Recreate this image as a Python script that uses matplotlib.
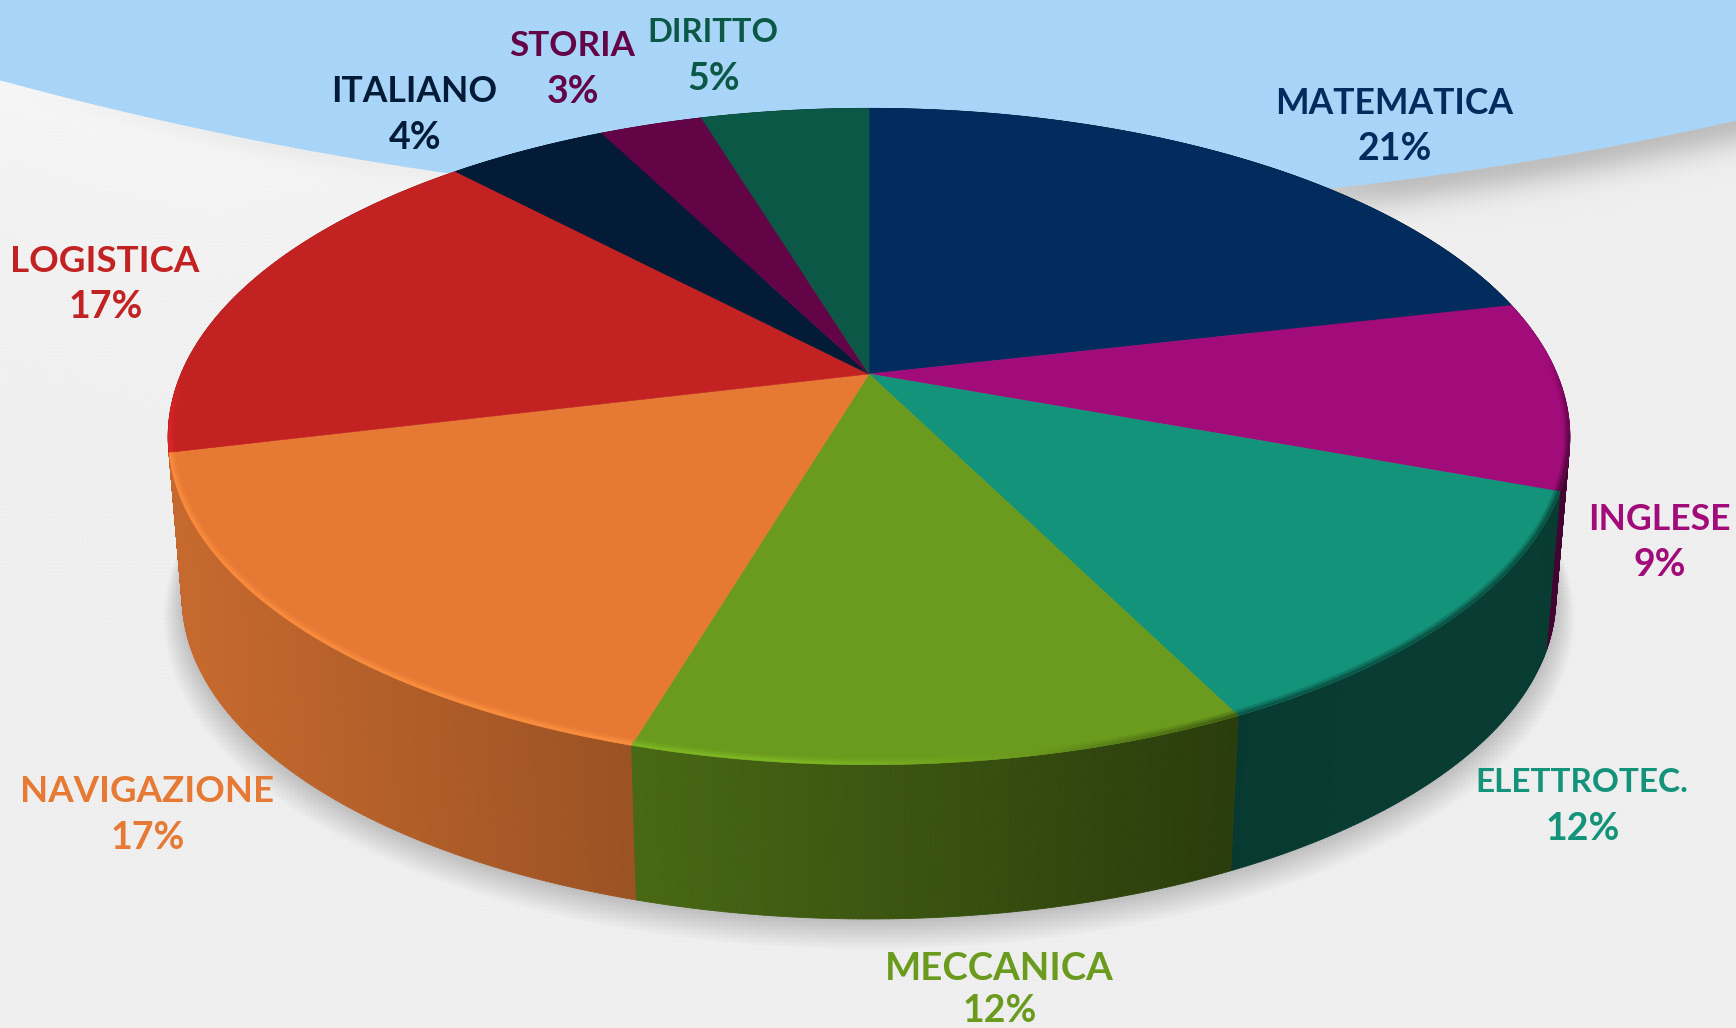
import numpy as np
import matplotlib
matplotlib.use('Agg')
import matplotlib.pyplot as plt
from matplotlib.collections import PolyCollection, LineCollection
from matplotlib.colors import to_rgb
from matplotlib.patches import Polygon

# slices, clockwise from 12 o'clock
subjects = ['MATEMATICA', 'INGLESE', 'ELETTROTEC.', 'MECCANICA', 'NAVIGAZIONE',
            'LOGISTICA', 'ITALIANO', 'STORIA', 'DIRITTO']
shares = [21.37, 9.27, 12.02, 11.89, 16.65, 16.8, 4.49, 2.86, 4.65]
percent_labels = [21, 9, 12, 12, 17, 17, 4, 3, 5]
colors = ['#032c5e', '#a20c7a', '#13937a', '#6b9b1e', '#e67a35',
          '#c32222', '#031b37', '#630447', '#0b5847']
label_xy = [(1394, 103), (1659, 519), (1582, 783), (999, 969), (147, 792),
            (105, 261), (414, 92), (572, 46), (713, 33)]
label_pt = [25.6, 25.6, 24.0, 27.6, 26.4, 26.5, 25.6, 25.2, 23.6]
percent_gap = [46, 46, 46, 42, 46, 46, 46, 46, 46]

W, H = 1736, 1028
CX, CY = 869, 374
A, B, K = 688, 316.3, 0.1906   # perspective of the disc
DEPTH = 162
SHRINK = 0.98


def top_xy(theta, r=1.0):
    u, v = r * np.sin(theta), r * np.cos(theta)
    w = 1 + K * v
    return CX + A * u / w, CY - B * v / w


def bottom_xy(theta, grow=1.0, dy=0.0):
    x, y = top_xy(theta)
    x2 = CX + SHRINK * (x - CX)
    y2 = CY + SHRINK * (y - CY) + DEPTH
    yc = CY + DEPTH + 60
    return CX + (x2 - CX) * grow, yc + (y2 - yc) * grow + dy


def make_background():
    yy, xx = np.mgrid[0:H, 0:W].astype(float)
    curve = 80 + 0.2714 * xx - 1.4305e-4 * xx ** 2
    pattern = np.sin((xx + yy) * 0.8) * np.sin((xx - yy) * 0.8)
    below = np.clip(yy - curve, 0, None)
    grey = 239 + 2.2 * pattern
    # light sheen on the left, soft shadow under the band on the right
    grey = grey + 7 * np.exp(-below / 170) * np.clip((700 - xx) / 500, 0, 1)
    right = np.clip((xx - 1100) / 300, 0, 1)
    left = np.clip((520 - xx) / 300, 0, 1) * np.clip(xx / 300, 0, 1)
    grey = grey - 48 * right * np.exp(-(below / 26) ** 2)
    grey = grey - 12 * left * np.exp(-(below / 14) ** 2)
    img = np.dstack([grey, grey, grey])
    blue = np.dstack([169 + 2 * pattern, 214 + 2 * pattern, 248 + 2 * pattern])
    mask = np.clip((curve - yy) + 0.5, 0, 1)[..., None]
    return np.clip(img * (1 - mask) + blue * mask, 0, 255) / 255


def wall_shade(x):
    return np.interp(x, [190, 640, 1230, 1500], [0.86, 0.67, 0.39, 0.41])


def rim_factor(x):
    return np.interp(x, [170, 800, 1030, 1250, 1560], [1.18, 1.22, 1.0, 0.5, 0.45])


fig = plt.figure(figsize=(W / 100, H / 100), dpi=100)
ax = fig.add_axes([0, 0, 1, 1])
ax.imshow(make_background(), extent=(0, W, H, 0), aspect='auto', zorder=0, interpolation='bilinear')

# cast shadow, stacked soft outlines
ring = np.linspace(0, 2 * np.pi, 400)
for i in range(16):
    sx, sy = bottom_xy(ring, grow=1.0 + 0.0018 * (15 - i), dy=2 + 1.3 * (15 - i))
    ax.fill(sx, sy, color='black', alpha=0.013, lw=0, zorder=1)

edges = np.cumsum([0] + shares) / sum(shares) * 2 * np.pi
for i in range(len(shares)):
    rgb = np.array(to_rgb(colors[i]))
    t = np.arange(edges[i], edges[i + 1], 0.006)
    t = np.append(t, edges[i + 1])

    # side wall: many thin quads shaded by screen x
    x0, y0 = top_xy(t)
    x1, y1 = bottom_xy(t)
    quads, quad_colors, depth = [], [], []
    for j in range(len(t) - 1):
        quads.append([(x0[j], y0[j]), (x0[j + 1], y0[j + 1]), (x1[j + 1], y1[j + 1]), (x1[j], y1[j])])
        quad_colors.append(np.clip(rgb * wall_shade((x0[j] + x0[j + 1]) / 2), 0, 1))
        depth.append(np.cos(t[j]))
    order = np.argsort(depth)[::-1]
    quads = [quads[n] for n in order]
    quad_colors = [quad_colors[n] for n in order]
    # back slices stay under the top face, front slices sit over neighbours
    ax.add_collection(PolyCollection(quads, facecolors=quad_colors, edgecolors=quad_colors,
                                     linewidths=0.6, zorder=2 + np.cos((edges[i] + edges[i + 1]) / 2) * -0.1))

for i in range(len(shares)):
    t = np.arange(edges[i], edges[i + 1], 0.006)
    t = np.append(t, edges[i + 1])
    x0, y0 = top_xy(t)
    ax.fill(np.r_[CX, x0], np.r_[CY, y0], color=colors[i], lw=0.4, zorder=3)

# bevel along the front edge, kept inside the top face
disc_x, disc_y = top_xy(ring)
disc = Polygon(np.c_[disc_x, disc_y], closed=True, transform=ax.transData, fill=False, lw=0)
ax.add_patch(disc)
for i in range(len(shares)):
    rgb = np.array(to_rgb(colors[i]))
    t = np.arange(edges[i], edges[i + 1], 0.006)
    t = np.append(t, edges[i + 1])
    x0, y0 = top_xy(t)
    segs, cols = [], []
    for j in range(len(t) - 1):
        fade = np.clip((0.05 - np.cos(t[j])) / 0.3, 0, 1)
        if fade <= 0:
            continue
        segs.append([(x0[j], y0[j]), (x0[j + 1], y0[j + 1])])
        c = np.clip(rgb * rim_factor(x0[j]), 0, 1)
        cols.append((c[0], c[1], c[2], fade))
    if not segs:
        continue
    for lw, alpha in [(9, 0.25), (6, 0.35), (3.5, 0.6)]:
        seg_cols = [(c[0], c[1], c[2], c[3] * alpha) for c in cols]
        rim = LineCollection(segs, colors=seg_cols, linewidths=lw, capstyle='butt', zorder=4)
        ax.add_collection(rim)
        rim.set_clip_path(disc)

for i, name in enumerate(subjects):
    lx, ly = label_xy[i]
    ax.text(lx, ly, name, color=colors[i], fontsize=label_pt[i], family='Lato', fontweight='bold',
            ha='center', va='center', zorder=5)
    ax.text(lx + 1, ly + percent_gap[i], f'{percent_labels[i]}%', color=colors[i], fontsize=27, family='Lato',
            fontweight='bold', ha='center', va='center', zorder=5)

ax.set_xlim(0, W)
ax.set_ylim(H, 0)
ax.axis('off')
fig.savefig('out.png', dpi=100)
